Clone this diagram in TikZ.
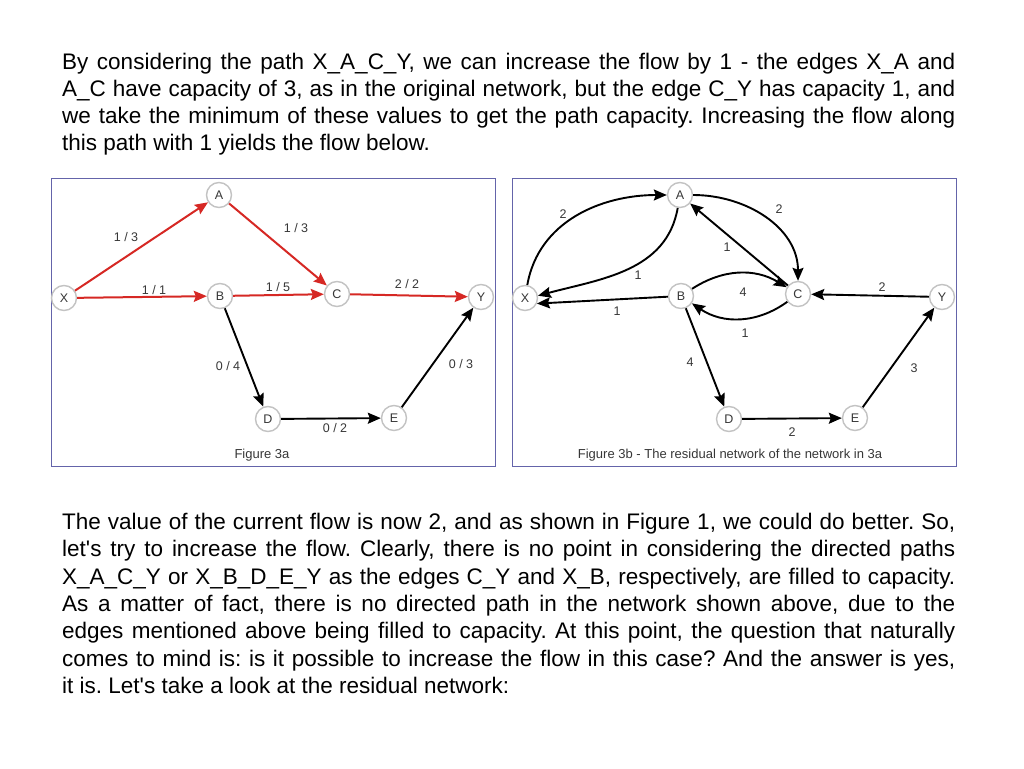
\documentclass[tikz,border=0pt]{standalone}
\usepackage{fontspec}
\setmainfont{Liberation Sans}
\usetikzlibrary{arrows.meta}
\frenchspacing
\definecolor{flowred}{RGB}{214,40,36}
\definecolor{panelblue}{RGB}{100,100,170}
\definecolor{ringgray}{RGB}{195,195,195}
\definecolor{labelgray}{RGB}{55,55,55}
\tikzset{
  vert/.style     = {circle, draw=ringgray, fill=white, line width=1.4pt,
                     minimum size=25pt, inner sep=0pt,
                     font=\fontsize{12.5}{13}\selectfont, text=labelgray},
  flow/.style     = {draw=flowred, line width=2pt,
                     -{Stealth[length=13pt, width=11pt, inset=2pt]}},
  res/.style      = {draw=black, line width=1.9pt,
                     -{Stealth[length=13pt, width=11pt, inset=2pt]}},
  wt/.style       = {font=\fontsize{12.5}{13}\selectfont, text=labelgray, inner sep=0pt},
  figcap/.style   = {font=\fontsize{13}{13}\selectfont, text=labelgray, inner sep=0pt},
  panel/.style    = {draw=panelblue, line width=1pt, fill=white, inner sep=0pt,
                     minimum width=444pt, minimum height=288pt},
  bodytext/.style = {font=\fontsize{22.5}{27}\selectfont, inner sep=0pt, anchor=base west},
}

\begin{document}
\begin{tikzpicture}[x=1pt, y=1pt]
  \useasboundingbox (0,0) rectangle (1024,-768);
  \fill[white] (0,0) rectangle (1024,-768);

  % text above the figures
  \foreach \ln [count=\i] in {
      {By considering the path X\_A\_C\_Y, we can increase the flow by 1 - the edges X\_A and},
      {A\_C have capacity of 3, as in the original network, but the edge C\_Y has capacity 1, and},
      {we take the minimum of these values to get the path capacity. Increasing the flow along}} {
    \node[bodytext] (top\i) at (62, {-69.5-27*(\i-1)}) {\makebox[893pt][s]{\ln}};
  }
  \node[bodytext] (top4) at (62, -150.5) {this path with 1 yields the flow below.};

  % the two panels
  \node[panel] (figa) at (273,-322) {};
  \node[panel] (figb) at (734,-322) {};

  % vertices, 3b is 3a shifted right
  \foreach \n/\x/\y in {X/64/298, A/219/195, B/220/296, C/337/294,
                        Y/481/297, D/268/419, E/394/418} {
    \node[vert] (a\n) at (\x,-\y) {\n};
    \node[vert] (b\n) at (\x+461,-\y) {\n};
  }

  % figure 3a: flow / capacity
  \draw[flow] (aX) -- (aA);
  \draw[flow] (aX) -- (aB);
  \draw[flow] (aA) -- (aC);
  \draw[flow] (aB) -- (aC);
  \draw[flow] (aC) -- (aY);
  \draw[res] (aB) -- (aD);
  \draw[res] (aD) -- (aE);
  \draw[res] (aE) -- (aY);
  \foreach \t/\x/\y [count=\i] in {{1 / 3}/126/237, {1 / 1}/154/290, {1 / 3}/296/228,
                                  {1 / 5}/278/287, {2 / 2}/407/284, {0 / 4}/228/366,
                                  {0 / 2}/335/428, {0 / 3}/461/364} {
    \node[wt] (wa\i) at (\x,-\y) {\t};
  }
  \node[figcap] (capa) at (262,-455) {Figure 3a};

  % figure 3b: residual network
  \draw[res] (bX) to[out=80, in=180] (bA);
  \draw[res] (bA) to[out=-100, in=15] (bX.10);
  \draw[res] (bA) to[out=0, in=90] (bC);
  \draw[res] (bC) -- (bA);
  \draw[res] (bB) to[bend left=32] (bC);
  \draw[res] (bC) to[bend left=35] (bB);
  \draw[res] (bB) -- (bX.-25);
  \draw[res] (bY) -- (bC);
  \draw[res] (bB) -- (bD);
  \draw[res] (bD) -- (bE);
  \draw[res] (bE) -- (bY);
  \foreach \t/\x/\y [count=\i] in {2/563/214, 1/638/275, 2/779/209, 1/727/247,
                                  4/743/292, 1/745/333, 1/617/311, 2/882/287,
                                  4/690/362, 2/792/432, 3/914/368} {
    \node[wt] (wb\i) at (\x,-\y) {\t};
  }
  \node[figcap] (capb) at (730,-455) {Figure 3b - The residual network of the network in 3a};

  % text below the figures
  \foreach \ln [count=\i] in {
      {The value of the current flow is now 2, and as shown in Figure 1, we could do better. So,},
      {let\textquotesingle s try to increase the flow. Clearly, there is no point in considering the directed paths},
      {X\_A\_C\_Y or X\_B\_D\_E\_Y as the edges C\_Y and X\_B, respectively, are filled to capacity.},
      {As a matter of fact, there is no directed path in the network shown above, due to the},
      {edges mentioned above being filled to capacity. At this point, the question that naturally},
      {comes to mind is: is it possible to increase the flow in this case? And the answer is yes,}} {
    \node[bodytext] (bot\i) at (62, {-529.5-27.3*(\i-1)}) {\makebox[893pt][s]{\ln}};
  }
  \node[bodytext] (bot7) at (62, -693.5) {it is. Let\textquotesingle s take a look at the residual network:};
\end{tikzpicture}
\end{document}
